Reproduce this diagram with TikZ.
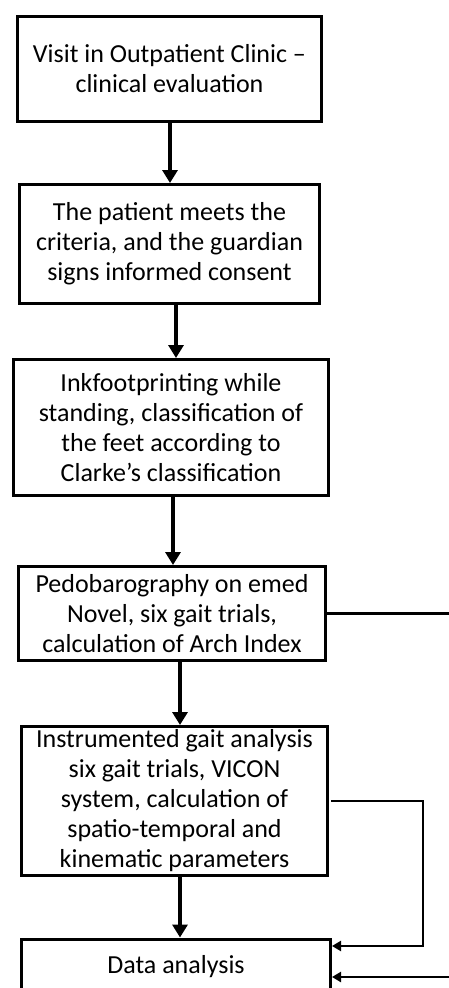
\documentclass[tikz,border=0pt]{standalone}
\usepackage{fontspec}
\setmainfont{Carlito}
\usetikzlibrary{arrows.meta}
\begin{document}
\begin{tikzpicture}[x=1bp,y=-1bp,
  box/.style={draw=black,line width=3bp,fill=white,align=center,inner sep=0pt,
    font=\fontsize{26bp}{30bp}\selectfont},
  mainarr/.style={line width=4.5bp,-{Triangle[width=15bp,length=13bp]}},
  sidearr/.style={line width=2.7bp,-{Triangle[width=10bp,length=9bp]}}]
\useasboundingbox[fill=white] (0,0) rectangle (449,988);
\node[box,minimum width=304bp,minimum height=105bp] (b1) at (169.5,69)
  {Visit in Outpatient Clinic --\\clinical evaluation};
\node[box,minimum width=300bp,minimum height=119bp] (b2) at (169.5,244)
  {The patient meets the\\criteria, and the guardian\\signs informed consent};
\node[box,minimum width=315bp,minimum height=136bp] (b3) at (171,427.5)
  {Inkfootprinting while\\standing, classification of\\the feet according to\\Clarke’s classification};
\node[box,minimum width=307bp,minimum height=94bp] (b4) at (172,613.5)
  {Pedobarography on emed\\Novel, six gait trials,\\calculation of Arch Index};
\node[box,minimum width=306bp,minimum height=149bp] (b5) at (174.5,801)
  {Instrumented gait analysis\\six gait trials, VICON\\system, calculation of\\spatio-temporal and\\kinematic parameters};
\node[box,minimum width=309bp,minimum height=56bp] (b6) at (176,967)
  {Data analysis};
\coordinate (c1) at (170,0);
\coordinate (c2) at (176,0);
\coordinate (c3) at (173,0);
\coordinate (c4) at (180,0);
\coordinate (c5) at (180,0);
\coordinate (r1) at (462,977);
\coordinate (r2) at (423,946);
\draw[mainarr] (b1.south -| c1) -- (b2.north -| c1);
\draw[mainarr] (b2.south -| c2) -- (b3.north -| c2);
\draw[mainarr] (b3.south -| c3) -- (b4.north -| c3);
\draw[mainarr] (b4.south -| c4) -- (b5.north -| c4);
\draw[mainarr] (b5.south -| c5) -- (b6.north -| c5);
\draw[sidearr] (b4.east) -- (b4.east -| r1) -- (r1) -- (b6.east |- r1);
\draw[sidearr] ([xshift=2bp]b5.east) -- (b5.east -| r2) -- (r2) -- (b6.east |- r2);
\end{tikzpicture}
\end{document}
